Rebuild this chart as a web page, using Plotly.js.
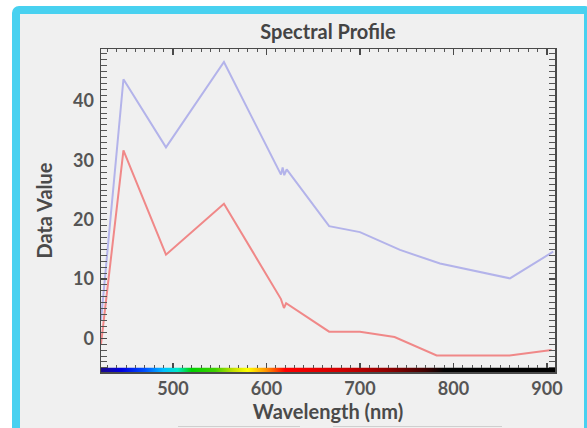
<!DOCTYPE html>
<html>
<head>
<meta charset="utf-8">
<script src="https://cdn.plot.ly/plotly-3.0.1.min.js"></script>
<style>
  html, body { margin: 0; padding: 0; background: #ffffff; overflow: hidden; width: 587px; height: 428px; }
  #frame {
    position: absolute; left: 12px; top: 6px; width: 580px; height: 440px;
    border: 8px solid #48d1f0; border-radius: 7px; background: #f0f0f0;
    box-sizing: border-box;
  }
  #chart { position: absolute; left: 0; top: 0; width: 587px; height: 428px; }
</style>
</head>
<body>
<div id="frame"></div>
<div id="chart"></div>
<script>
// Wavelengths (nm) and data values
const wavelengthsBlue = [423, 447, 492.5, 554.5, 615.5, 617.3, 619, 621.6, 667, 700, 742.8, 785.6, 860.4, 906.7];
const valuesBlue      = [3,   43.7, 32.2, 46.6,  27.6,  28.8,  27.5, 28.5,  18.9, 17.9, 14.9, 12.6, 10.1, 14.6];

const wavelengthsRed  = [423, 447, 492.5, 554.5, 615.5, 617.5, 618.7, 621, 667, 700, 737, 782, 860, 905];
const valuesRed       = [-1,  31.7, 14.1, 22.7,  6.6,   5.7,   5.1,   5.9, 1.1, 1.1, 0.2, -2.9, -2.9, -2.0];

// Visible-spectrum band along the wavelength axis
const spectrumWavelengths = [423, 445, 470, 490, 505, 520, 545, 565, 580, 600, 620, 680, 730, 770, 790, 908.6];
const spectrumColors = ['#1c0a8c', '#0000e0', '#0050ff', '#00c0ff', '#00e8c8', '#00d000', '#40d000', '#c8e000',
                        '#ffff00', '#ff9000', '#ff0000', '#d00000', '#900000', '#400000', '#000000', '#000000'];
const bandValueRange = [-5.7, -5.0];

const xTicks = [500, 600, 700, 800, 900];
const yTicks = [0, 10, 20, 30, 40];

const wMin = spectrumWavelengths[0], wMax = spectrumWavelengths[spectrumWavelengths.length - 1];
const colorscale = spectrumWavelengths.map((w, i) => [(w - wMin) / (wMax - wMin), spectrumColors[i]]);

const band = {
  type: 'scatter', mode: 'lines',
  x: [wMin, wMax, wMax, wMin, wMin],
  y: [bandValueRange[0], bandValueRange[0], bandValueRange[1], bandValueRange[1], bandValueRange[0]],
  fill: 'toself',
  line: { width: 0, color: 'rgba(0,0,0,0)' },
  fillgradient: { type: 'horizontal', colorscale: colorscale, start: wMin, stop: wMax },
  hoverinfo: 'skip'
};

const blue = {
  type: 'scatter', mode: 'lines',
  x: wavelengthsBlue, y: valuesBlue,
  line: { color: '#b3b3ea', width: 2 },
  hoverinfo: 'x+y'
};
const red = {
  type: 'scatter', mode: 'lines',
  x: wavelengthsRed, y: valuesRed,
  line: { color: '#f08888', width: 2 },
  hoverinfo: 'x+y'
};
// empty trace so the tick-only overlay axis above the spectrum band is drawn
const tickOverlay = { type: 'scatter', mode: 'lines', x: [], y: [], xaxis: 'x2', yaxis: 'y', hoverinfo: 'skip' };

const FONT = 'Lato, "Open Sans", sans-serif';
const tickFont = { family: FONT, size: 18, color: '#555555', weight: 'bold' };
const axisCommon = {
  showgrid: false, zeroline: false,
  showline: true, linecolor: '#4a4a4a', linewidth: 1.5, mirror: 'allticks',
  ticks: 'inside', ticklen: 6, tickwidth: 1.2, tickcolor: '#4a4a4a',
  tickfont: tickFont
};

const layout = {
  width: 587, height: 428,
  margin: { l: 101, r: 32, t: 49, b: 56, pad: 0 },
  paper_bgcolor: 'rgba(0,0,0,0)',
  plot_bgcolor: '#f0f0f0',
  showlegend: false,
  title: {
    text: 'Spectral Profile',
    font: { family: FONT, size: 20, color: '#444444', weight: 'bold' },
    x: 0.5, xref: 'paper', xanchor: 'center',
    y: 1 - 32 / 428, yref: 'container', yanchor: 'middle'
  },
  xaxis: Object.assign({}, axisCommon, {
    range: [423, 908.6],
    layer: 'below traces',
    tickmode: 'array', tickvals: xTicks, ticktext: xTicks.map(String),
    minor: { dtick: 10, ticks: 'inside', ticklen: 3, tickcolor: '#555555', tickwidth: 1 },
    ticklabelstandoff: 0,
    title: {
      text: 'Wavelength (nm)', standoff: 1,
      font: { family: FONT, size: 20, color: '#4a4a4a', weight: 'bold' }
    }
  }),
  xaxis2: {
    overlaying: 'x', anchor: 'free', position: 4.5 / 323, side: 'bottom',
    range: [423, 908.6], showline: false, showgrid: false, zeroline: false,
    tickmode: 'array', tickvals: xTicks, showticklabels: false,
    ticks: 'inside', ticklen: 5, tickwidth: 1.2, tickcolor: '#4a4a4a',
    minor: { dtick: 10, ticks: 'inside', ticklen: 2.5, tickcolor: '#555555', tickwidth: 1 }
  },
  yaxis: Object.assign({}, axisCommon, {
    range: [-5.7, 48.8],
    tickmode: 'array', tickvals: yTicks, ticktext: yTicks.map(String),
    minor: { dtick: 1, ticks: 'inside', ticklen: 3, tickcolor: '#555555', tickwidth: 1 },
    ticklabelstandoff: 2,
    title: {
      text: 'Data Value', standoff: 15,
      font: { family: FONT, size: 20, color: '#4a4a4a', weight: 'bold' }
    }
  }),
  shapes: [
    { type: 'line', xref: 'paper', yref: 'paper', x0: (178 - 101) / 454, x1: (300 - 101) / 454,
      y0: -(426.5 - 372) / 323, y1: -(426.5 - 372) / 323, line: { color: '#cfcfcf', width: 1 } },
    { type: 'line', xref: 'paper', yref: 'paper', x0: (333 - 101) / 454, x1: (502 - 101) / 454,
      y0: -(426.5 - 372) / 323, y1: -(426.5 - 372) / 323, line: { color: '#cfcfcf', width: 1 } }
  ]
};

Plotly.newPlot('chart', [band, blue, red, tickOverlay], layout, { displayModeBar: false, staticPlot: true });
</script>
</body>
</html>
